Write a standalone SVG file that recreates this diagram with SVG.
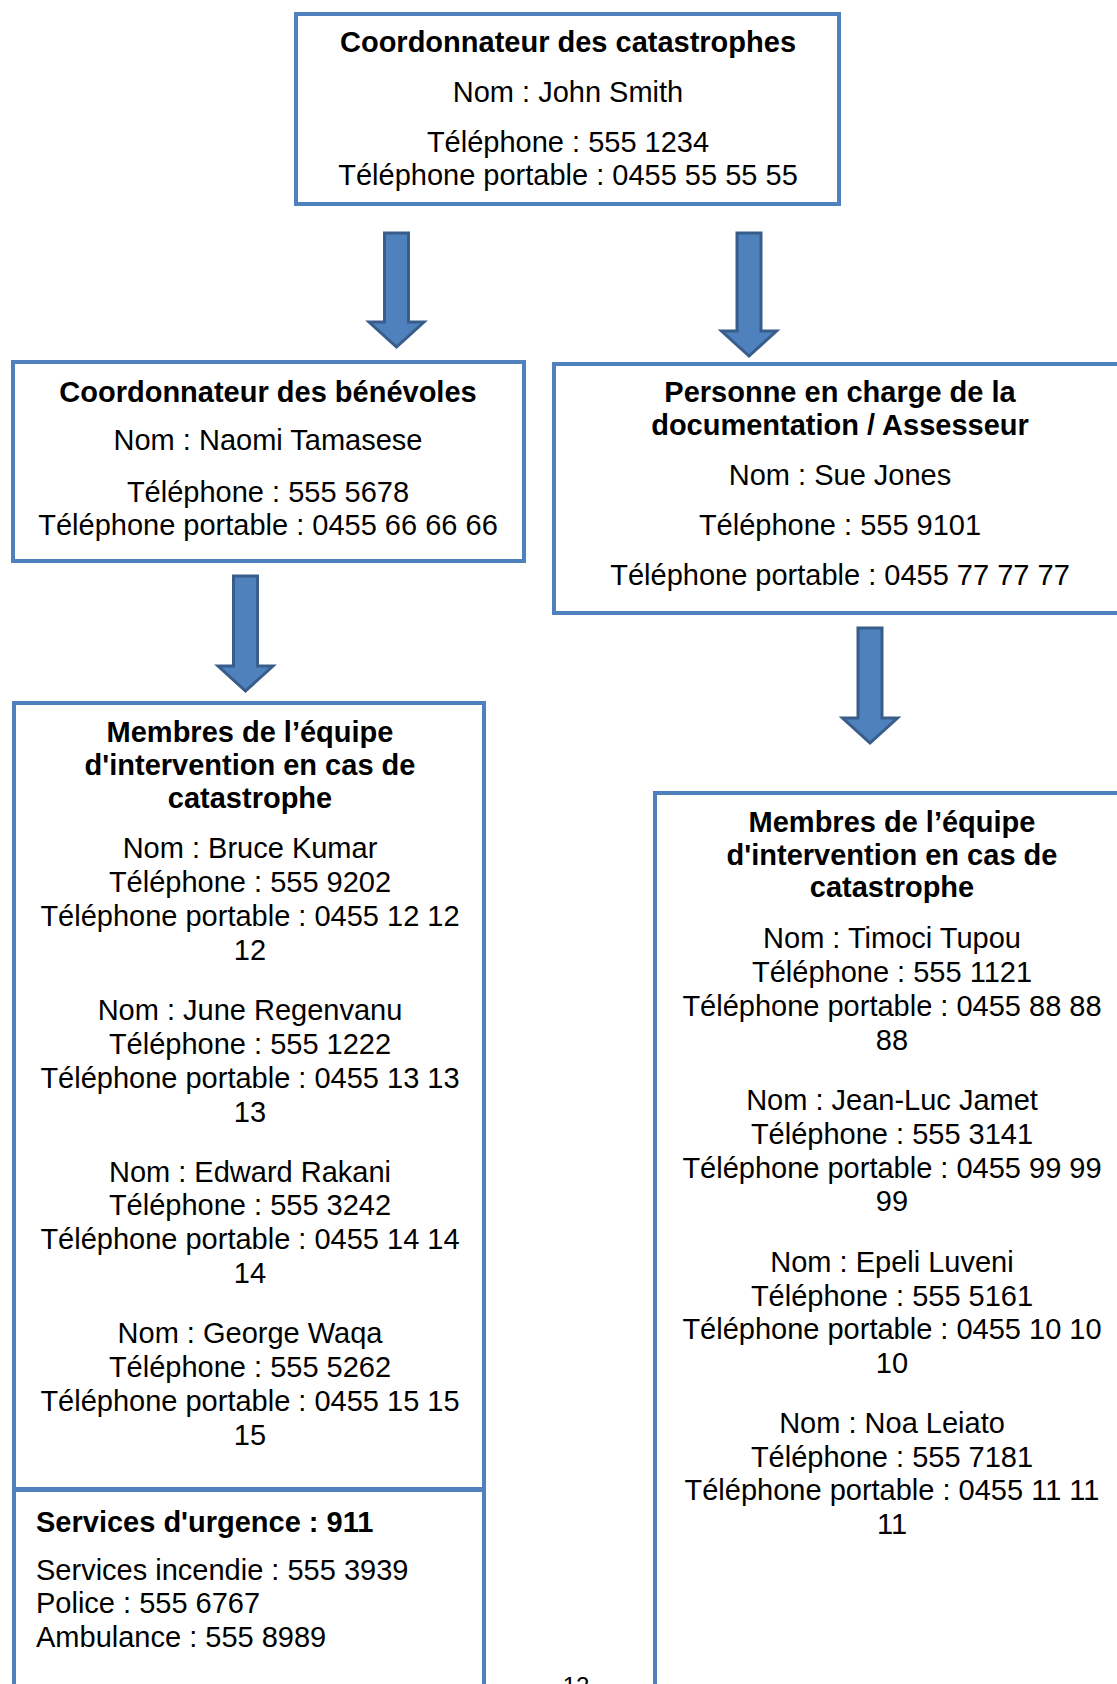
<svg xmlns="http://www.w3.org/2000/svg" width="1117" height="1684" viewBox="0 0 1117 1684">
<style>
.box{fill:#fff;stroke:#4F81BD;stroke-width:4}
.arr{fill:#4F81BD;stroke:#385D8A;stroke-width:3;stroke-linejoin:miter}
text{font-family:"Liberation Sans",Arial,sans-serif;font-size:29px;fill:#000}
.c{text-anchor:middle}
.b{font-weight:bold}
</style>
<rect width="1117" height="1684" fill="#fff"/>
<g id="connectors">
<polygon class="arr" points="384.5,233 408.5,233 408.5,322 424,322 396.5,347 369,322 384.5,322"/>
<polygon class="arr" points="737,233 761,233 761,331 776.5,331 749,356 721.5,331 737,331"/>
<polygon class="arr" points="233.5,576 257.5,576 257.5,666 273,666 245.5,691 218,666 233.5,666"/>
<polygon class="arr" points="858,628 882,628 882,718 897.5,718 870,743 842.5,718 858,718"/>
</g>
<g id="coord-catastrophes">
<rect class="box" x="296" y="14" width="543" height="190"/>
<text class="c b" x="568" y="52">Coordonnateur des catastrophes</text>
<text class="c" x="568" y="102">Nom : John Smith</text>
<text class="c" x="568" y="152">Téléphone : 555 1234</text>
<text class="c" x="568" y="185">Téléphone portable : 0455 55 55 55</text>
</g>
<g id="coord-benevoles">
<rect class="box" x="13" y="362" width="511" height="199"/>
<text class="c b" x="268" y="402">Coordonnateur des bénévoles</text>
<text class="c" x="268" y="450">Nom : Naomi Tamasese</text>
<text class="c" x="268" y="502">Téléphone : 555 5678</text>
<text class="c" x="268" y="535">Téléphone portable : 0455 66 66 66</text>
</g>
<g id="documentation">
<rect class="box" x="554" y="364" width="600" height="249"/>
<text class="c b" x="840" y="402">Personne en charge de la</text>
<text class="c b" x="840" y="435">documentation / Assesseur</text>
<text class="c" x="840" y="485">Nom : Sue Jones</text>
<text class="c" x="840" y="535">Téléphone : 555 9101</text>
<text class="c" x="840" y="585">Téléphone portable : 0455 77 77 77</text>
</g>
<g id="equipe-gauche">
<rect class="box" x="14" y="703" width="470" height="786"/>
<text class="c b" x="250" y="742">Membres de l’équipe</text>
<text class="c b" x="250" y="775">d'intervention en cas de</text>
<text class="c b" x="250" y="808">catastrophe</text>
<text class="c" x="250" y="858">Nom : Bruce Kumar</text>
<text class="c" x="250" y="892">Téléphone : 555 9202</text>
<text class="c" x="250" y="926">Téléphone portable : 0455 12 12</text>
<text class="c" x="250" y="960">12</text>
<text class="c" x="250" y="1020">Nom : June Regenvanu</text>
<text class="c" x="250" y="1054">Téléphone : 555 1222</text>
<text class="c" x="250" y="1088">Téléphone portable : 0455 13 13</text>
<text class="c" x="250" y="1122">13</text>
<text class="c" x="250" y="1182">Nom : Edward Rakani</text>
<text class="c" x="250" y="1215">Téléphone : 555 3242</text>
<text class="c" x="250" y="1249">Téléphone portable : 0455 14 14</text>
<text class="c" x="250" y="1283">14</text>
<text class="c" x="250" y="1343">Nom : George Waqa</text>
<text class="c" x="250" y="1377">Téléphone : 555 5262</text>
<text class="c" x="250" y="1411">Téléphone portable : 0455 15 15</text>
<text class="c" x="250" y="1445">15</text>
</g>
<g id="urgence">
<rect class="box" x="14" y="1490" width="470" height="300"/>
<text class="b" x="36" y="1532">Services d'urgence : 911</text>
<text x="36" y="1580">Services incendie : 555 3939</text>
<text x="36" y="1613">Police : 555 6767</text>
<text x="36" y="1647">Ambulance : 555 8989</text>
</g>
<g id="equipe-droite">
<rect class="box" x="655" y="793" width="520" height="1000"/>
<text class="c b" x="892" y="832">Membres de l’équipe</text>
<text class="c b" x="892" y="865">d'intervention en cas de</text>
<text class="c b" x="892" y="897">catastrophe</text>
<text class="c" x="892" y="948">Nom : Timoci Tupou</text>
<text class="c" x="892" y="982">Téléphone : 555 1121</text>
<text class="c" x="892" y="1016">Téléphone portable : 0455 88 88</text>
<text class="c" x="892" y="1050">88</text>
<text class="c" x="892" y="1110">Nom : Jean-Luc Jamet</text>
<text class="c" x="892" y="1144">Téléphone : 555 3141</text>
<text class="c" x="892" y="1178">Téléphone portable : 0455 99 99</text>
<text class="c" x="892" y="1211">99</text>
<text class="c" x="892" y="1272">Nom : Epeli Luveni</text>
<text class="c" x="892" y="1306">Téléphone : 555 5161</text>
<text class="c" x="892" y="1339">Téléphone portable : 0455 10 10</text>
<text class="c" x="892" y="1373">10</text>
<text class="c" x="892" y="1433">Nom : Noa Leiato</text>
<text class="c" x="892" y="1467">Téléphone : 555 7181</text>
<text class="c" x="892" y="1500">Téléphone portable : 0455 11 11</text>
<text class="c" x="892" y="1534">11</text>
</g>
<text class="c" x="576" y="1694" style="font-size:24px">12</text>
</svg>
